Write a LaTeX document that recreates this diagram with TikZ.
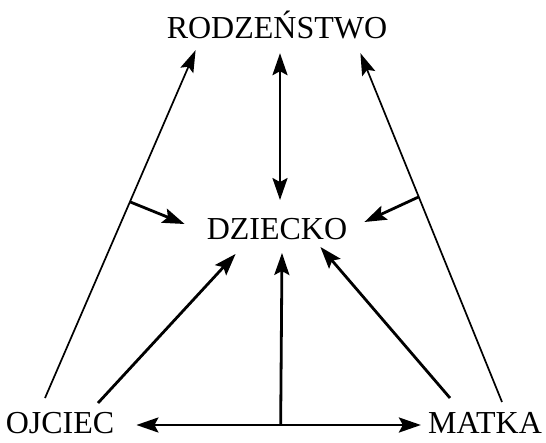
\documentclass[tikz,border=0pt]{standalone}
\usepackage{fontspec}
\setmainfont{Liberation Serif}
\usetikzlibrary{arrows.meta, positioning}
\tikzset{
  famlbl/.style   = {font=\fontsize{32}{38}\selectfont, inner sep=0pt},
  heavyarr/.style = {-{Stealth[length=22pt, width=15pt, inset=4pt]}, line width=2.8pt, black},
  dblarr/.style   = {{Stealth[length=22pt, width=15pt, inset=4pt]}-{Stealth[length=22pt, width=15pt, inset=4pt]},
                     line width=2.8pt, black},
  thinarr/.style  = {-{Stealth[length=22pt, width=14pt, inset=4pt]}, line width=1.7pt, black},
}

\begin{document}
\begin{tikzpicture}[x=1pt,y=-1pt]
  \useasboundingbox (0,0) rectangle (546,442);
  \node[famlbl] (sib)    at (277,25)  {RODZEŃSTWO};
  \node[famlbl] (child)  at (277,229) {DZIECKO};
  \node[famlbl] (father) at (60,423)  {OJCIEC};
  \node[famlbl] (mother) at (485,423) {MATKA};
  % free ends of the long side lines and the parent lines
  \coordinate (fOut) at (45,398);  \coordinate (fIn) at (98,403);
  \coordinate (mOut) at (502,402); \coordinate (mIn) at (450,398);
  % side lines up to the siblings
  \draw[thinarr] (fOut) -- ([xshift=29pt,yshift=-11pt]sib.south west)
    coordinate[pos=0.564] (brL);
  \draw[thinarr] (mOut) -- ([xshift=-27pt,yshift=-14pt]sib.south east)
    coordinate[pos=0.588] (brR);
  \draw[dblarr] ([xshift=3pt,yshift=-14pt]sib.south) -- ([xshift=3pt,yshift=18pt]child.north);
  % branches and parents to the child
  \draw[heavyarr] (brL) -- ([xshift=-22pt,yshift=5pt]child.west);
  \draw[heavyarr] (brR) -- ([xshift=17pt,yshift=7pt]child.east);
  \draw[heavyarr] (fIn) -- ([xshift=29pt,yshift=-14pt]child.south west);
  \draw[heavyarr] (mIn) -- ([xshift=-27pt,yshift=-7pt]child.south east);
  % parents to each other
  \draw[dblarr] ([xshift=22pt,yshift=-2pt]father.east) -- ([xshift=-7pt,yshift=-2pt]mother.west)
    coordinate[pos=0.507] (pair);
  \draw[heavyarr] (pair) -- ([xshift=5pt,yshift=-13pt]child.south);
\end{tikzpicture}
\end{document}
